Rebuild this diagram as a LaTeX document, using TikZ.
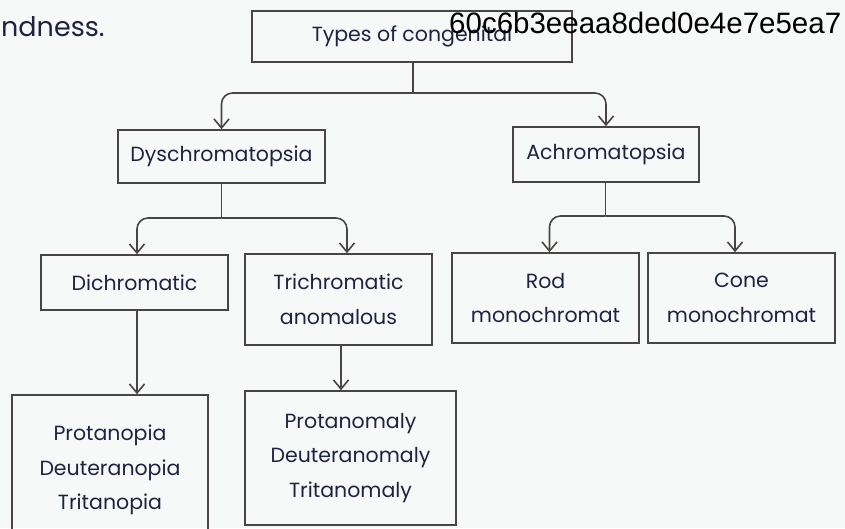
\documentclass[tikz,border=0pt]{standalone}
\usepackage{fontspec}
\setmainfont{Poppins}
\newfontfamily\hashfont{Liberation Sans}
\usetikzlibrary{arrows.meta}
\definecolor{ink}{HTML}{1E2342}
\definecolor{pen}{HTML}{4A4444}
\definecolor{paper}{HTML}{F6F9F8}
\tikzset{
  box/.style={draw=pen, line width=1.6pt, text=ink, align=center, inner sep=0pt,
    font=\fontsize{20.5}{34.5}\selectfont},
  link/.style={draw=pen, line width=1.6pt},
  arr/.style={link, -{Straight Barb[length=9pt,width=15pt]}},
  fork/.style={arr, rounded corners=11pt},
}
\begin{document}
\begin{tikzpicture}[x=1pt,y=-1pt]
\useasboundingbox (0,0) rectangle (845,528);
\fill[paper] (0,0) rectangle (845,528);
\clip (0,0) rectangle (845,528);

% heading fragment
\node[anchor=base west, inner sep=0pt, text=ink, font=\fontsize{27}{27}\selectfont] (head) at (1,36) {ndness.};

% boxes
\node[box, minimum width=320pt, minimum height=51pt] (top) at (412,36.5) {\raisebox{-5pt}{Types of congenital}};
\node[box, minimum width=207pt, minimum height=53pt] (dys) at (221.5,156.5) {\raisebox{-2pt}{Dyschromatopsia}};
\node[box, minimum width=186pt, minimum height=55pt] (ach) at (606,154.5) {Achromatopsia};
\node[box, minimum width=187pt, minimum height=55pt] (dic) at (134.5,282.5) {Dichromatic};
\node[box, minimum width=187pt, minimum height=91pt] (tri) at (338.5,299.5) {Trichromatic\\anomalous};
\node[box, minimum width=187pt, minimum height=90pt] (rod) at (545.5,298) {Rod\\monochromat};
\node[box, minimum width=187pt, minimum height=90pt] (cone) at (741.5,298) {Cone\\monochromat};
\node[box, minimum width=196pt, minimum height=150pt] (pnp) at (110,470) {Protanopia\\Deuteranopia\\Tritanopia};
\node[box, minimum width=211pt, minimum height=134pt] (pnm) at (350.5,458) {Protanomaly\\Deuteranomaly\\Tritanomaly};

% stamp over the top box
\node[anchor=base west, inner sep=0pt, text=black, font=\hashfont\fontsize{29.5}{29.5}\selectfont] (hash) at (449,33) {60c6b3eeaa8ded0e4e7e5ea7};

% branching connectors
\coordinate (j1) at (413,93);
\draw[link] (top.south -| j1) -- (j1);
\draw[fork] (j1) -| (dys.north);
\draw[fork] (j1) -| (ach.north);

\coordinate (j2) at (221.5,218);
\draw[link] (dys.south) -- (j2);
\draw[fork] (j2) -| ([xshift=2.5pt]dic.north);
\draw[fork] (j2) -| ([xshift=8.5pt]tri.north);

\coordinate (j3) at (605.5,216);
\draw[link] (ach.south -| j3) -- (j3);
\draw[fork] (j3) -| ([xshift=4pt]rod.north);
\draw[fork] (j3) -| ([xshift=-6.5pt]cone.north);

% single arrows down
\draw[arr] ([xshift=2.5pt]dic.south) -- ([xshift=27pt]pnp.north);
\draw[arr] ([xshift=2.5pt]tri.south) -- ([xshift=-9.5pt]pnm.north);
\end{tikzpicture}
\end{document}
